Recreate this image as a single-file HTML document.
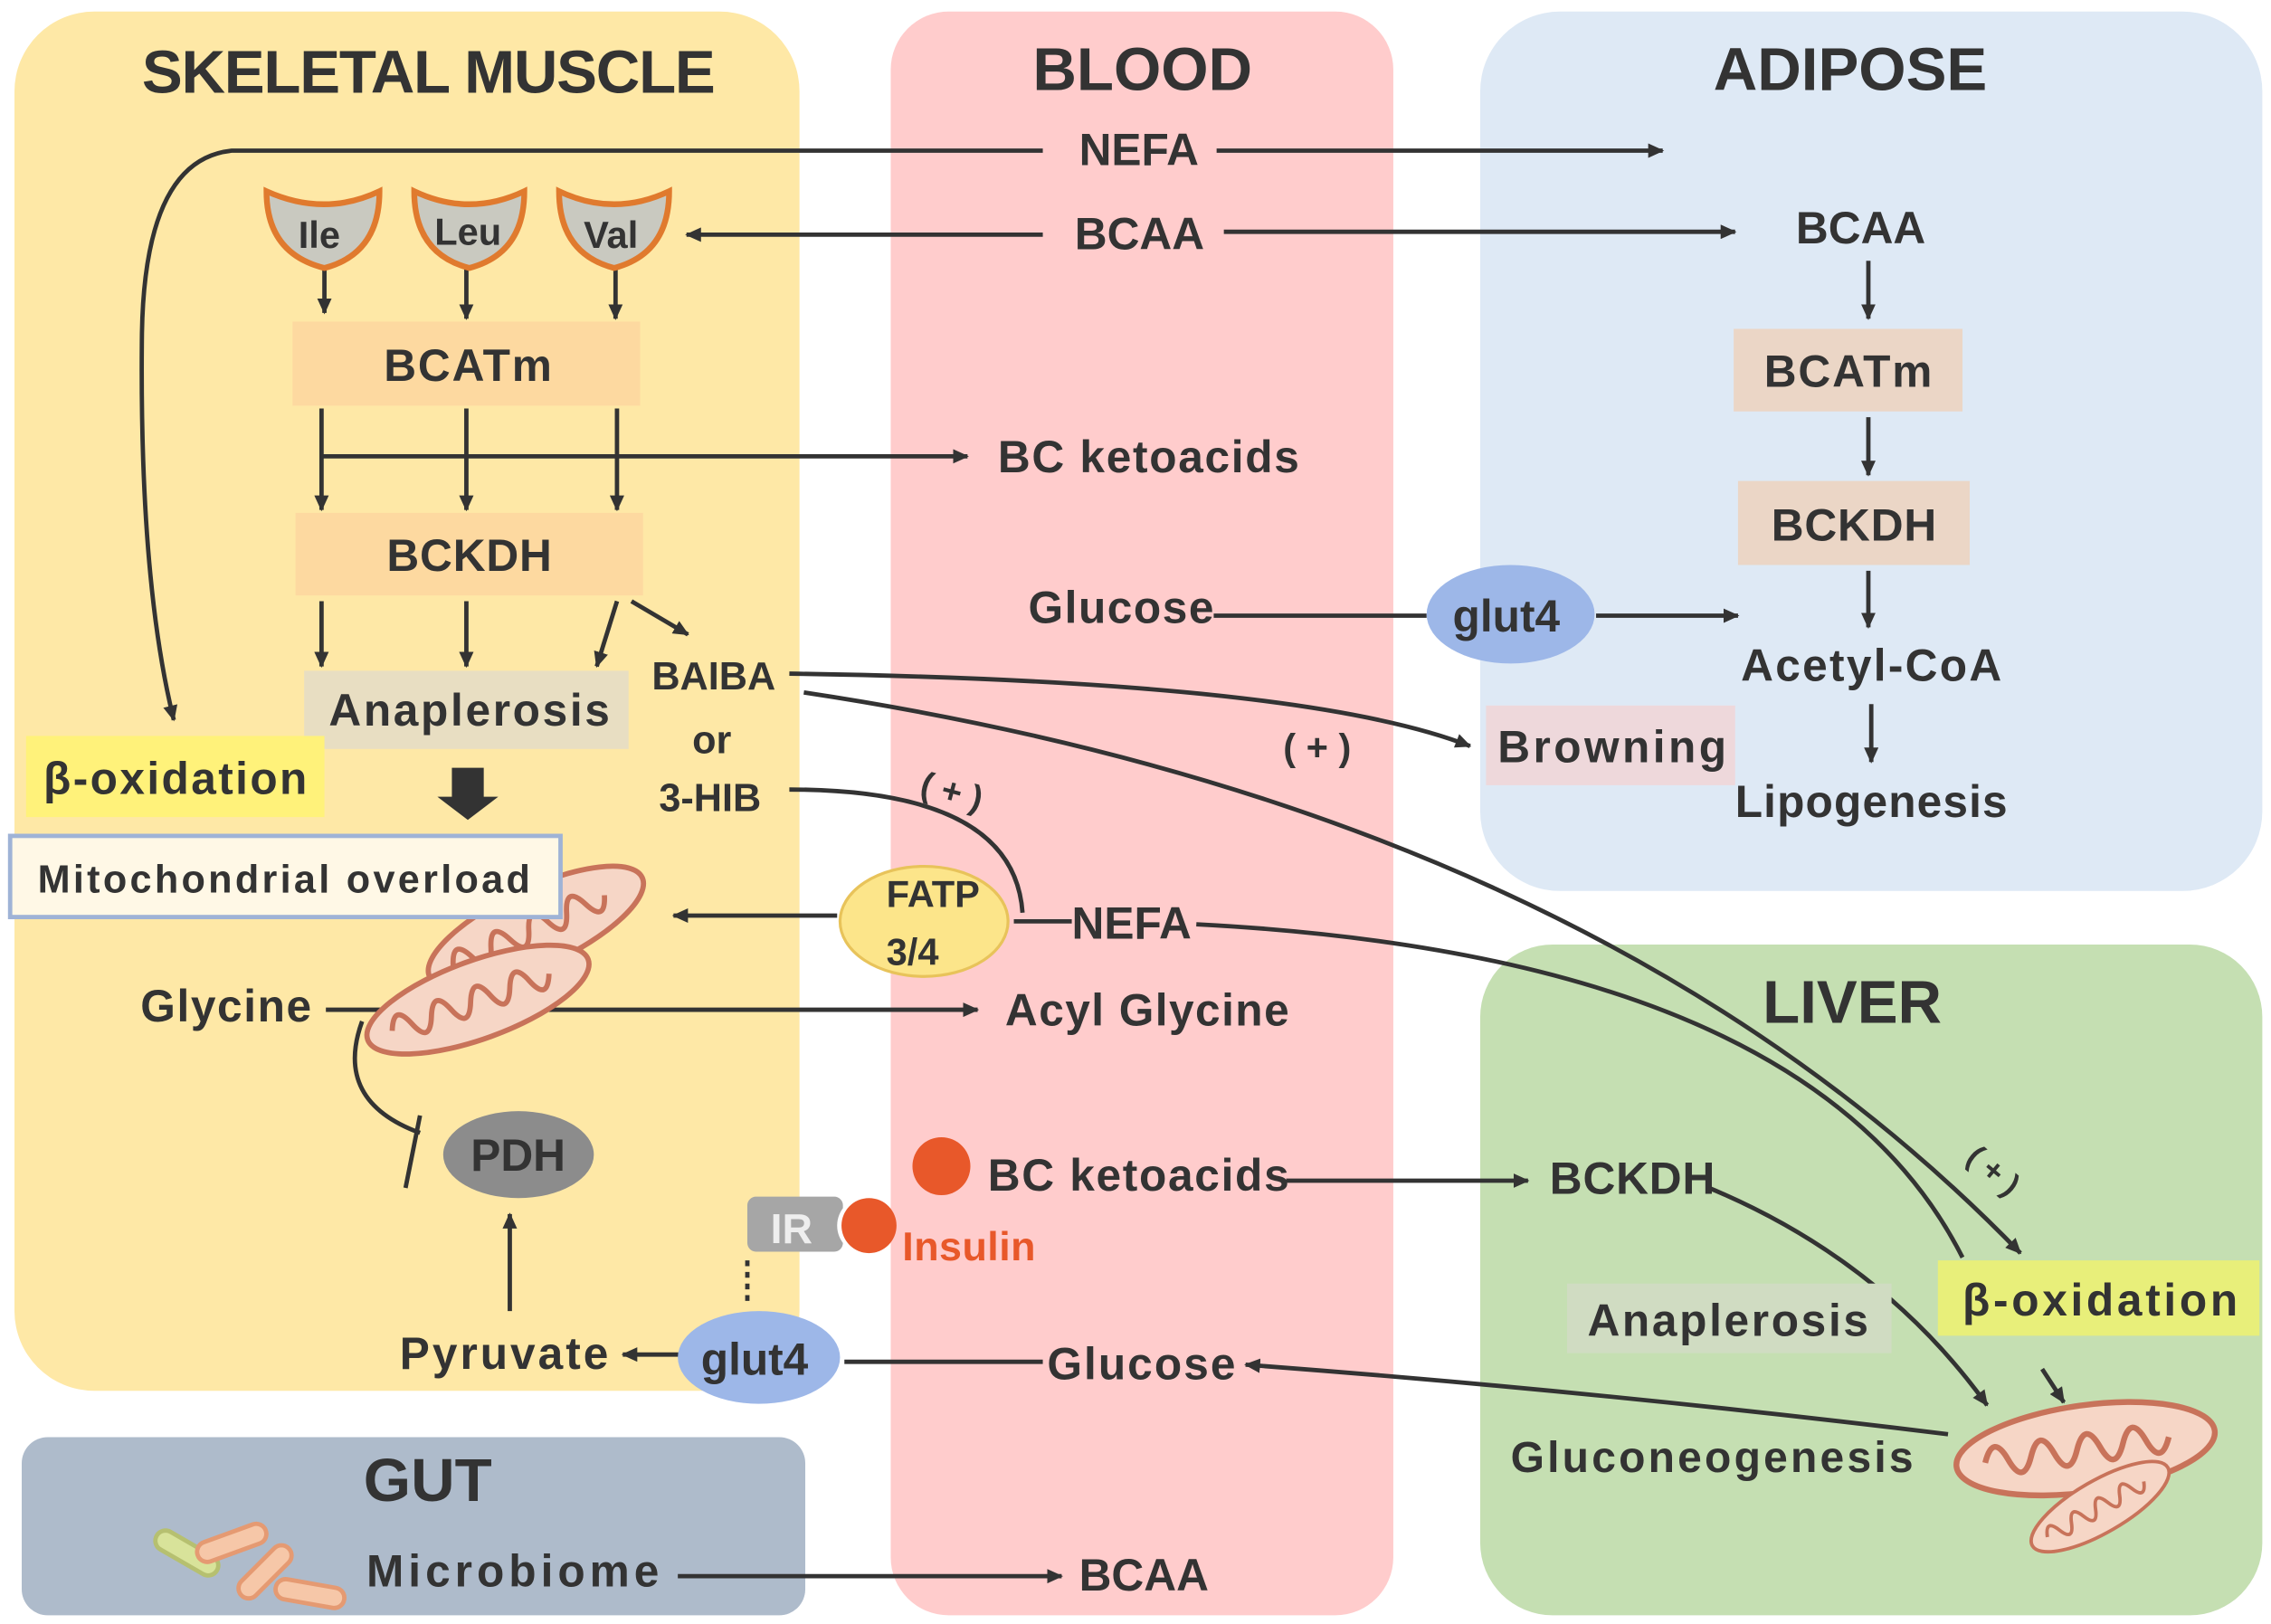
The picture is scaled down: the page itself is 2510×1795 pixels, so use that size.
<!DOCTYPE html>
<html><head><meta charset="utf-8"><style>
html,body{margin:0;padding:0;background:#fff}
svg{display:block}
text{font-family:"Liberation Sans",sans-serif;font-weight:bold;fill:#333}
</style></head><body>
<svg width="2510" height="1795" viewBox="0 0 1568 1121" preserveAspectRatio="none" xmlns="http://www.w3.org/2000/svg">
<defs>
<marker id="a" markerWidth="11" markerHeight="10" refX="10" refY="5" orient="auto" markerUnits="userSpaceOnUse" viewBox="0 0 11 10"><path d="M0,0 L11,5 L0,10 z" fill="#333"/></marker>
<g id="mito"><ellipse cx="0" cy="0" rx="90" ry="30" fill="#f6d6c6" stroke="#c8735a" stroke-width="4"/><path d="M-70,0 q8,-20 16,0 q8,20 16,0 q8,-20 16,0 q8,20 16,0 q8,-20 16,0 q8,20 16,0 q8,-20 16,0 q8,20 16,0" fill="none" stroke="#c8735a" stroke-width="4"/></g>
</defs>
<rect x="0" y="0" width="1568" height="1121" fill="#fff"/>
<rect x="10" y="8" width="542" height="952" rx="55" fill="#FEE8A6"/>
<rect x="615" y="8" width="347" height="1107" rx="40" fill="#FFCCCC"/>
<rect x="1022" y="8" width="540" height="607" rx="55" fill="#DEE9F5"/>
<rect x="1022" y="652" width="540" height="463" rx="50" fill="#C5DFB2"/>
<rect x="15" y="992" width="541" height="123" rx="18" fill="#AEBBCB"/>

<text x="98" y="64" font-size="42" textLength="396">SKELETAL MUSCLE</text>
<text x="713" y="62" font-size="42">BLOOD</text>
<text x="1183" y="62" font-size="42">ADIPOSE</text>
<text x="1217" y="706" font-size="42">LIVER</text>
<text x="251" y="1036" font-size="42">GUT</text>

<g stroke="#333" stroke-width="3" fill="none">
<path d="M720,104 H160 Q100,110 98,230 Q96,400 120,497" marker-end="url(#a)"/>
<path d="M840,104 H1148" marker-end="url(#a)"/>
<path d="M720,162 H474" marker-end="url(#a)"/>
<path d="M845,160 H1198" marker-end="url(#a)"/>
<path d="M224,185 V216" marker-end="url(#a)"/><path d="M322,185 V220" marker-end="url(#a)"/><path d="M425,185 V220" marker-end="url(#a)"/>
<path d="M222,282 V352" marker-end="url(#a)"/><path d="M322,282 V352" marker-end="url(#a)"/><path d="M426,282 V352" marker-end="url(#a)"/>
<path d="M222,315 H668" marker-end="url(#a)"/>
<path d="M222,415 V460" marker-end="url(#a)"/><path d="M322,415 V460" marker-end="url(#a)"/><path d="M426,415 L412,460" marker-end="url(#a)"/>
<path d="M436,415 L475,438" marker-end="url(#a)"/>
<path d="M1290,180 V220" marker-end="url(#a)"/>
<path d="M1290,288 V328" marker-end="url(#a)"/>
<path d="M1290,394 V433" marker-end="url(#a)"/>
<path d="M1292,486 V526" marker-end="url(#a)"/>
<path d="M838,425 H985"/>
<path d="M1102,425 H1200" marker-end="url(#a)"/>
<path d="M545,465 Q900,470 1015,515" marker-end="url(#a)"/>
<path d="M555,478 Q1100,560 1395,865" marker-end="url(#a)"/>
<path d="M545,545 Q700,545 706,630"/>
<path d="M700,636 H740"/>
<path d="M578,632 H465" marker-end="url(#a)"/>
<path d="M826,638 Q1250,660 1355,868"/>
<path d="M225,697 H675" marker-end="url(#a)"/>
<path d="M250,705 Q230,760 290,782"/>
<path d="M290,770 L280,820"/>
<path d="M352,905 V838" marker-end="url(#a)"/>
<path d="M470,935 H430" marker-end="url(#a)"/>
<path d="M720,940 H583"/>
<path d="M1345,990 Q1100,960 860,942" marker-end="url(#a)"/>
<path d="M888,815 H1055" marker-end="url(#a)"/>
<path d="M1180,820 Q1300,870 1372,970" marker-end="url(#a)"/>
<path d="M1410,945 L1425,968" marker-end="url(#a)"/>
<path d="M468,1088 H733" marker-end="url(#a)"/>
<path d="M516,870 V900" stroke-dasharray="4,4"/>
</g>
<path d="M312,530 h22 v20 h10 l-21,16 l-21,-16 h10 z" fill="#333"/>

<g stroke="#E07A2E" stroke-width="4" fill="#C9C9C0">
<path d="M184,132 Q224,150 262,132 Q262,175 224,185 Q184,175 184,132 z"/>
<path d="M286,132 Q324,150 362,132 Q362,175 324,185 Q286,175 286,132 z"/>
<path d="M386,132 Q424,150 462,132 Q462,175 424,185 Q386,175 386,132 z"/>
</g>
<text x="206" y="171" font-size="26">Ile</text>
<text x="300" y="169" font-size="26">Leu</text>
<text x="403" y="171" font-size="26">Val</text>

<rect x="202" y="222" width="240" height="58" fill="#FDD9A0"/>
<text x="265" y="263" font-size="31" textLength="116">BCATm</text>
<rect x="204" y="354" width="240" height="57" fill="#FDD9A0"/>
<text x="267" y="394" font-size="31" textLength="114">BCKDH</text>
<rect x="210" y="463" width="224" height="54" fill="#E8DEC2"/>
<text x="227" y="501" font-size="31" textLength="194">Anaplerosis</text>
<rect x="18" y="508" width="206" height="56" fill="#FFF27A"/>
<text x="30" y="548" font-size="31" textLength="182">β-oxidation</text>

<use href="#mito" transform="translate(370,640) rotate(-25) scale(0.9)"/>
<use href="#mito" transform="translate(330,690) rotate(-20) scale(0.9)"/>
<rect x="7" y="577" width="380" height="56" fill="#FFF8E6" stroke="#9FB3D6" stroke-width="3"/>
<text x="26" y="616" font-size="27" textLength="340">Mitochondrial  overload</text>

<text x="450" y="476" font-size="27">BAIBA</text>
<text x="478" y="520" font-size="27">or</text>
<text x="455" y="560" font-size="27">3-HIB</text>
<text x="636" y="555" font-size="24" font-weight="normal" transform="rotate(15 660 545)">( + )</text>
<text x="886" y="525" font-size="26" font-weight="normal">( + )</text>
<text x="1355" y="815" font-size="22" font-weight="normal" transform="rotate(40 1375 810)">( + )</text>

<text x="745" y="114" font-size="31">NEFA</text>
<text x="742" y="172" font-size="31">BCAA</text>
<text x="689" y="326" font-size="31" textLength="208">BC ketoacids</text>
<text x="710" y="430" font-size="31" textLength="128">Glucose</text>
<text x="740" y="648" font-size="31">NEFA</text>
<text x="694" y="708" font-size="31" textLength="196">Acyl Glycine</text>
<text x="682" y="822" font-size="31" textLength="208">BC ketoacids</text>
<text x="723" y="952" font-size="31" textLength="130">Glucose</text>
<text x="745" y="1098" font-size="31">BCAA</text>

<ellipse cx="638" cy="636" rx="58" ry="38" fill="#FCE58A" stroke="#E8C35A" stroke-width="2"/>
<text x="612" y="626" font-size="26">FATP</text>
<text x="612" y="666" font-size="26">3/4</text>

<text x="97" y="705" font-size="31" textLength="118">Glycine</text>
<ellipse cx="358" cy="797" rx="52" ry="30" fill="#8C8C8C"/>
<text x="325" y="808" font-size="31">PDH</text>
<text x="276" y="945" font-size="31" textLength="144">Pyruvate</text>
<ellipse cx="524" cy="937" rx="56" ry="32" fill="#9DB7E8"/>
<text x="484" y="949" font-size="31">glut4</text>
<rect x="516" y="826" width="66" height="38" rx="6" fill="#A6A6A6"/>
<text x="532" y="858" font-size="29" style="fill:#eee">IR</text>
<circle cx="598" cy="846" r="20" fill="#fff"/>
<circle cx="600" cy="846" r="19" fill="#E8582A"/>
<circle cx="650" cy="805" r="20" fill="#E8582A"/>
<text x="623" y="870" font-size="28" style="fill:#E8582A" textLength="92">Insulin</text>

<text x="1240" y="168" font-size="31">BCAA</text>
<rect x="1197" y="227" width="158" height="57" fill="#EBD6C6"/>
<text x="1218" y="267" font-size="31" textLength="116">BCATm</text>
<rect x="1200" y="332" width="160" height="58" fill="#EBD6C6"/>
<text x="1223" y="373" font-size="31" textLength="114">BCKDH</text>
<ellipse cx="1043" cy="424" rx="58" ry="34" fill="#9DB7E8"/>
<text x="1003" y="436" font-size="31">glut4</text>
<text x="1202" y="470" font-size="31" textLength="180">Acetyl-CoA</text>
<rect x="1026" y="487" width="172" height="55" fill="#EED8DB"/>
<text x="1034" y="526" font-size="31" textLength="158">Browning</text>
<text x="1198" y="564" font-size="31" textLength="188">Lipogenesis</text>

<text x="1070" y="824" font-size="31" textLength="114">BCKDH</text>
<rect x="1082" y="886" width="224" height="48" fill="#D0DCC2"/>
<text x="1096" y="922" font-size="31" textLength="194">Anaplerosis</text>
<rect x="1338" y="870" width="222" height="52" fill="#E8EF7A"/>
<text x="1355" y="908" font-size="31" textLength="190">β-oxidation</text>
<text x="1043" y="1016" font-size="30" textLength="278">Gluconeogenesis</text>
<use href="#mito" transform="translate(1440,1000) rotate(-8) scale(1)"/>
<use href="#mito" transform="translate(1450,1040) rotate(-30) scale(0.6)"/>

<g stroke-width="3">
<rect x="105" y="1065" width="48" height="14" rx="7" fill="#D8E39A" stroke="#B6C070" transform="rotate(30 129 1072)"/>
<rect x="135" y="1058" width="50" height="14" rx="7" fill="#F6C7A8" stroke="#E59A72" transform="rotate(-20 160 1065)"/>
<rect x="160" y="1078" width="46" height="14" rx="7" fill="#F6C7A8" stroke="#E59A72" transform="rotate(-45 183 1085)"/>
<rect x="190" y="1093" width="48" height="14" rx="7" fill="#F6C7A8" stroke="#E59A72" transform="rotate(10 214 1100)"/>
</g>
<text x="253" y="1095" font-size="31" textLength="202">Microbiome</text>
</svg>
</body></html>
